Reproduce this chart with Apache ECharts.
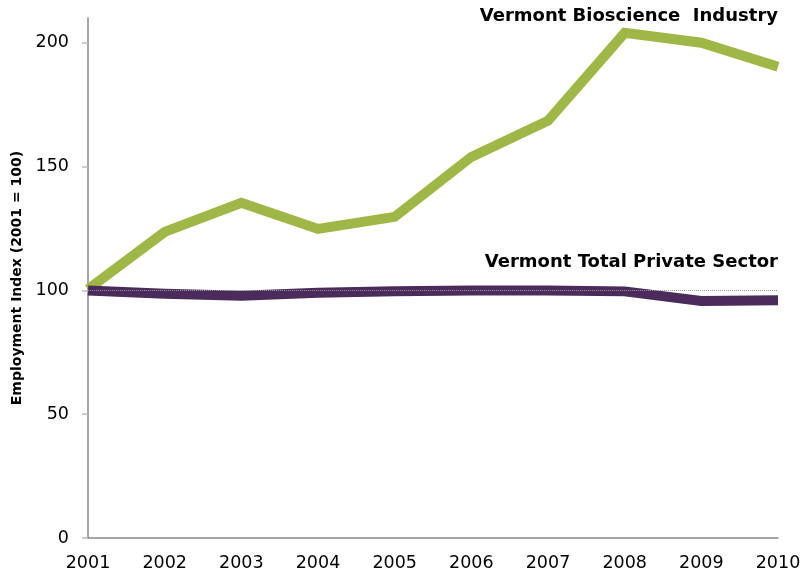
<!DOCTYPE html>
<html>
<head>
<meta charset="utf-8">
<script src="https://cdn.jsdelivr.net/npm/echarts@6/dist/echarts.min.js"></script>
<style>
  html, body { margin: 0; padding: 0; background: #fff; }
  #main { width: 812px; height: 578px; }
</style>
</head>
<body>
<div id="main"></div>
<script>
// data
var years = ['2001', '2002', '2003', '2004', '2005', '2006', '2007', '2008', '2009', '2010']
var bioscience = [100.5, 123.6, 135.4, 124.8, 129.7, 153.9, 168.5, 204, 200, 190.3]
var privateSector = [100, 98.6, 97.8, 99, 99.6, 100, 100, 99.6, 95.7, 96]
var yTicks = [0, 50, 100, 150, 200]

var myChart = echarts.init(document.getElementById('main'))

var font = '"DejaVu Sans", Verdana, sans-serif'

var option = {
  animation: false,
  grid: { left: 88, right: 34, top: 18, bottom: 40, outerBoundsMode: 'none' },
  xAxis: {
    type: 'category',
    data: years,
    boundaryGap: false,
    axisLine: { lineStyle: { color: '#888', width: 1.5 } },
    axisTick: { show: false },
    axisLabel: { color: '#000', fontFamily: font, fontSize: 17.5, margin: 16 },
    splitLine: { show: false }
  },
  yAxis: {
    type: 'value',
    min: 0,
    max: 210,
    interval: 50,
    name: 'Employment Index (2001 = 100)',
    nameLocation: 'middle',
    nameGap: 60,
    nameTextStyle: { color: '#000', fontFamily: font, fontSize: 14, fontWeight: 'bold' },
    axisLine: { show: true, lineStyle: { color: '#888', width: 1.5 } },
    axisTick: { show: true, length: 6, lineStyle: { color: '#bbb', width: 1.5 }, customValues: yTicks },
    axisLabel: { color: '#000', fontFamily: font, fontSize: 17.5, margin: 19, customValues: yTicks },
    splitLine: { show: false }
  },
  series: [{
    name: 'Vermont Bioscience Industry',
    type: 'line',
    data: bioscience,
    symbol: 'none',
    lineStyle: { color: '#9fb746', width: 10, cap: 'butt', join: 'miter' },
    z: 2
  }, {
    name: 'Vermont Total Private Sector',
    type: 'line',
    data: privateSector,
    symbol: 'none',
    lineStyle: { color: '#4b2a5c', width: 10, cap: 'butt', join: 'miter' },
    z: 3,
    markLine: {
      silent: true,
      symbol: 'none',
      label: { show: false },
      lineStyle: { color: '#999', type: 'dotted', width: 1 },
      data: [{ yAxis: 100 }]
    }
  }],
  graphic: [{
    type: 'text',
    right: 34,
    top: 7,
    style: { text: 'Vermont Bioscience  Industry', font: 'bold 18px ' + font, fill: '#000' }
  }, {
    type: 'text',
    right: 34,
    top: 253,
    style: { text: 'Vermont Total Private Sector', font: 'bold 18px ' + font, fill: '#000' }
  }]
}

myChart.setOption(option)
</script>
</body>
</html>
